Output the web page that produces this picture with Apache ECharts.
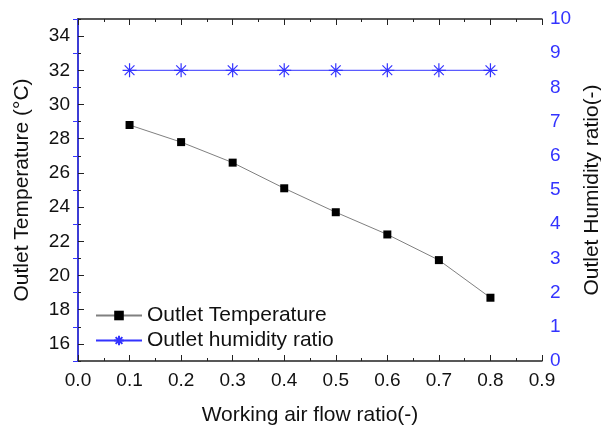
<!DOCTYPE html>
<html>
<head>
<meta charset="utf-8">
<script src="https://cdn.jsdelivr.net/npm/echarts@6/dist/echarts.min.js"></script>
<style>html,body{margin:0;padding:0;background:#fff;}#c{width:601px;height:426px;}</style>
</head>
<body>
<div id="c"></div>
<script>
var flowRatio = [0.1, 0.2, 0.3, 0.4, 0.5, 0.6, 0.7, 0.8];
var outletTemp = [28.8, 27.8, 26.6, 25.1, 23.7, 22.4, 20.9, 18.7];
var outletHumidity = [8.5, 8.5, 8.5, 8.5, 8.5, 8.5, 8.5, 8.5];
var tempMajorTicks = [16, 18, 20, 22, 24, 26, 28, 30, 32, 34];

var BLUE = '#3333ff';
var FONT = 'Liberation Sans, Arial, sans-serif';
var chart = echarts.init(document.getElementById('c'), null, {renderer: 'canvas'});
var asterisk = 'path://M0,-10L0,10M-10,0L10,0M-7,-7L7,7M-7,7L7,-7';

function pairs(xs, ys) { return xs.map(function (x, i) { return [x, ys[i]]; }); }

chart.setOption({
  animation: false,
  backgroundColor: '#fff',
  textStyle: {fontFamily: FONT},
  grid: {left: 78, right: 59, top: 19, bottom: 65, outerBoundsMode: 'none', containLabel: false},
  legend: {
    orient: 'vertical', left: 90, top: 300,
    itemWidth: 46, itemHeight: 12, itemGap: 4,
    textStyle: {fontSize: 21, color: '#111', fontFamily: FONT},
    data: ['Outlet Temperature', 'Outlet humidity ratio']
  },
  xAxis: [{
    type: 'value', min: 0, max: 0.9, interval: 0.1, position: 'bottom',
    name: 'Working air flow ratio(-)', nameLocation: 'middle', nameGap: 44,
    nameTextStyle: {fontSize: 21, color: '#111'},
    axisLine: {lineStyle: {color: '#222', width: 1.5}},
    axisTick: {inside: true, length: 6, lineStyle: {color: '#222'}},
    minorTick: {show: true, splitNumber: 2, length: 3, lineStyle: {color: '#222'}},
    axisLabel: {fontSize: 19, color: '#111', margin: 10, formatter: function (v) { return v.toFixed(1); }},
    splitLine: {show: false}
  }, {
    type: 'value', min: 0, max: 0.9, interval: 0.1, position: 'top',
    axisLine: {lineStyle: {color: '#222', width: 1.5}},
    axisTick: {inside: true, length: 6, lineStyle: {color: '#222'}},
    minorTick: {show: true, splitNumber: 2, length: 3, lineStyle: {color: '#222'}},
    axisLabel: {show: false},
    splitLine: {show: false}
  }],
  yAxis: [{
    type: 'value', min: 15, max: 35, position: 'left',
    name: 'Outlet Temperature (°C)', nameLocation: 'middle', nameGap: 45,
    nameTextStyle: {fontSize: 21, color: '#111'},
    axisLine: {show: true, lineStyle: {color: '#222', width: 1.5}},
    axisTick: {show: true, inside: true, length: 6, customValues: tempMajorTicks, lineStyle: {color: '#222'}},
    axisLabel: {fontSize: 19, color: '#111', margin: 8, customValues: tempMajorTicks},
    splitLine: {show: false}
  }, {
    type: 'value', min: 0, max: 10, interval: 1, position: 'right',
    name: 'Outlet Humidity ratio(-)', nameLocation: 'middle', nameGap: 37, nameRotate: 90,
    nameTextStyle: {fontSize: 21, color: '#111'},
    axisLine: {show: true, lineStyle: {color: BLUE, width: 1.5}},
    axisTick: {show: true, inside: true, length: 5, lineStyle: {color: BLUE}},
    axisLabel: {fontSize: 19, color: BLUE, margin: 8},
    splitLine: {show: false}
  }, {
    type: 'value', min: 15, max: 35, interval: 1, position: 'left',
    axisLine: {show: false},
    axisTick: {show: true, inside: true, length: 3, lineStyle: {color: '#222'}},
    axisLabel: {show: false},
    splitLine: {show: false}
  }],
  series: [{
    name: 'Outlet Temperature', type: 'line', xAxisIndex: 0, yAxisIndex: 0,
    data: pairs(flowRatio, outletTemp),
    symbol: 'rect', symbolSize: 8,
    itemStyle: {color: '#000'},
    lineStyle: {color: '#808080', width: 1}
  }, {
    name: 'Outlet humidity ratio', type: 'line', xAxisIndex: 0, yAxisIndex: 1,
    data: pairs(flowRatio, outletHumidity),
    symbol: asterisk, symbolSize: 14,
    itemStyle: {color: BLUE, borderColor: BLUE, borderWidth: 1.2},
    lineStyle: {color: BLUE, width: 1}
  }]
});
</script>
</body>
</html>
